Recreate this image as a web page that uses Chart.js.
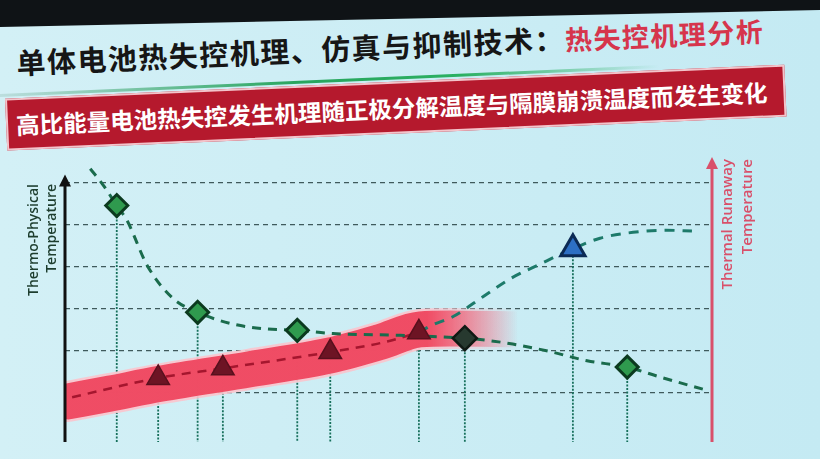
<!DOCTYPE html>
<html lang="zh">
<head>
<meta charset="utf-8">
<title>热失控机理分析</title>
<script src="https://cdn.jsdelivr.net/npm/chart.js@4.4.1/dist/chart.umd.min.js"></script>
<style>
  html, body { margin: 0; padding: 0; }
  body {
    width: 820px; height: 459px; overflow: hidden; position: relative;
    background: linear-gradient(to right, #d3f0f6, #c4eaf3);
    font-family: "Noto Sans CJK SC", sans-serif;
  }
  .topbar {
    position: absolute; left: 0; top: 0; width: 820px; height: 28px; background: #0f1316;
    clip-path: polygon(0 0, 100% 0, 100% 10px, 0 27px);
  }
  .header {
    position: absolute; left: 0; top: 0; width: 820px; height: 160px;
    transform: rotate(-2.5deg); transform-origin: 410px 90px;
  }
  .title {
    position: absolute; left: 18px; top: 24px; height: 40px; line-height: 40px;
    font-size: 29px; font-weight: 700; color: #161616; white-space: nowrap; letter-spacing: 1.5px;
  }
  .title span { color: #d6354c; font-size: 27px; }
  .rule {
    position: absolute; left: 0; top: 76px; width: 660px; height: 3px;
    background: linear-gradient(to right, rgba(60,120,90,0.15), #28a55e 45%, #2bb062 70%, rgba(40,170,100,0));
  }
  .banner {
    position: absolute; left: 5px; top: 81px; width: 780px; height: 52px; box-sizing: border-box;
    background: #b5192d; border: 2px solid #f3c4cb; color: #fff;
    font-size: 23.5px; font-weight: 700; line-height: 48px; padding-left: 8px; white-space: nowrap;
  }
  .plot { position: absolute; left: 0; top: 140px; width: 820px; height: 319px; }
</style>
</head>
<body>
<div class="topbar"></div>
<div class="header">
  <div class="title">单体电池热失控机理、仿真与抑制技术：<span>热失控机理分析</span></div>
  <div class="rule"></div>
  <div class="banner">高比能量电池热失控发生机理随正极分解温度与隔膜崩溃温度而发生变化</div>
</div>
<div class="plot"><canvas id="chart"></canvas></div>

<script>
// grid rows (temperature levels)
const gridValues = [1, 2, 3, 4, 5, 6];

// thermo-physical temperature curve (falling, green dashed)
const fallingX = [3.9, 5.9, 8.0, 9.6, 12.7, 16.7, 20.5, 25.9, 31.2, 35.9, 41.4, 51.8, 61.8, 65.2, 69.2, 75.0, 80.7, 86.9, 92.0, 98.9];
const fallingY = [6.34, 5.95, 5.46, 5.10, 4.03, 3.24, 2.91, 2.63, 2.51, 2.48, 2.40, 2.36, 2.29, 2.24, 2.15, 1.97, 1.75, 1.60, 1.36, 1.06];

// thermal runaway temperature after crossover (rising)
const risingX = [54.7, 56.7, 60.0, 64.6, 68.8, 73.4, 78.5, 82.7, 87.8, 93.0, 96.9];
const risingY = [2.43, 2.60, 2.81, 3.28, 3.71, 4.06, 4.43, 4.68, 4.82, 4.87, 4.85];

// thermal runaway temperature (red dashed)
const redX = [1.1, 14.4, 24.4, 41.0, 49.8, 54.7];
const redY = [0.88, 1.34, 1.57, 1.96, 2.21, 2.43];

// red band around it
const bandX = [0.5, 7.0, 14.7, 28.6, 41.0, 48.7, 54.9, 59.5, 70.0];
const bandY = [0.78, 0.97, 1.20, 1.55, 1.88, 2.20, 2.50, 2.52, 2.50];
const bandFade = [56, 70];

// markers
const triX = [14.4, 24.4, 41.0, 54.7];
const triY = [1.34, 1.57, 1.96, 2.43];
const diamondX = [8.0, 20.5, 35.9, 86.9];
const diamondY = [5.46, 2.91, 2.48, 1.60];
const darkX = [61.8];
const darkY = [2.29];
const blueX = [78.5];
const blueY = [4.43];

const pts = (xs, ys) => xs.map((x, i) => ({ x: x, y: ys[i] }));

function bandColor(rgb, alpha) {
  return function(ctx) {
    const chart = ctx.chart;
    if (!chart.chartArea) return 'rgba(' + rgb + ',' + alpha + ')';
    const x = chart.scales.x;
    const g = chart.ctx.createLinearGradient(x.getPixelForValue(bandFade[0]), 0, x.getPixelForValue(bandFade[1]), 0);
    g.addColorStop(0, 'rgba(' + rgb + ',' + alpha + ')');
    g.addColorStop(1, 'rgba(' + rgb + ',0)');
    return g;
  };
}

// dotted drop lines, axes with arrows and axis titles
const decor = {
  id: 'decor',
  beforeDatasetsDraw(chart) {
    const { ctx, chartArea } = chart;
    ctx.save();
    ctx.strokeStyle = '#17705c';
    ctx.lineWidth = 1.8;
    ctx.setLineDash([2, 1.5]);
    chart.data.datasets.forEach((ds, i) => {
      if (!ds.drop) return;
      chart.getDatasetMeta(i).data.forEach(p => {
        ctx.beginPath();
        ctx.moveTo(p.x, p.y);
        ctx.lineTo(p.x, chartArea.bottom);
        ctx.stroke();
      });
    });
    ctx.restore();
  },
  afterDatasetsDraw(chart) {
    const { ctx, chartArea } = chart;
    const y = chart.scales.y;
    const arrow = (x, tip, color) => {
      ctx.strokeStyle = color;
      ctx.fillStyle = color;
      ctx.lineWidth = 3;
      ctx.beginPath();
      ctx.moveTo(x, chartArea.bottom);
      ctx.lineTo(x, tip + 8);
      ctx.stroke();
      ctx.beginPath();
      ctx.moveTo(x, tip);
      ctx.lineTo(x - 6, tip + 12);
      ctx.lineTo(x + 6, tip + 12);
      ctx.closePath();
      ctx.fill();
    };
    const vlabel = (x, top, text, color, size) => {
      ctx.save();
      ctx.translate(x, top);
      ctx.rotate(-Math.PI / 2);
      ctx.fillStyle = color;
      ctx.font = '600 ' + size + 'px "Open Sans", sans-serif';
      ctx.textAlign = 'right';
      ctx.textBaseline = 'middle';
      ctx.fillText(text, 0, 0);
      ctx.restore();
    };
    ctx.save();
    arrow(chartArea.left, y.getPixelForValue(6.2), '#111');
    arrow(chartArea.right, chartArea.top, '#d9506a');
    vlabel(chartArea.left - 31, chartArea.top + 27, 'Thermo-Physical', '#1d3d2e', 14);
    vlabel(chartArea.left - 13, chartArea.top + 27, 'Temperature', '#1d3d2e', 14);
    vlabel(chartArea.right + 16, chartArea.top + 2, 'Thermal Runaway', '#d9506a', 15);
    vlabel(chartArea.right + 36, chartArea.top + 2, 'Temperature', '#d9506a', 15);
    ctx.restore();
  }
};

new Chart(document.getElementById('chart'), {
  type: 'line',
  data: {
    datasets: [
      {
        data: pts(triX, triY), showLine: false, drop: true,
        pointStyle: 'triangle', pointRadius: 13,
        pointBackgroundColor: '#6d1424', pointBorderColor: '#58101d', pointBorderWidth: 1.5
      },
      {
        data: pts(diamondX, diamondY), showLine: false, drop: true,
        pointStyle: 'rectRot', pointRadius: 11,
        pointBackgroundColor: '#2f9a4e', pointBorderColor: '#0b3a1f', pointBorderWidth: 3
      },
      {
        data: pts(darkX, darkY), showLine: false, drop: true,
        pointStyle: 'rectRot', pointRadius: 12,
        pointBackgroundColor: '#27392f', pointBorderColor: '#101a14', pointBorderWidth: 2.5
      },
      {
        data: pts(blueX, blueY), showLine: false, drop: true,
        pointStyle: 'triangle', pointRadius: 14,
        pointBackgroundColor: '#2d6fc4', pointBorderColor: '#0b2a55', pointBorderWidth: 3
      },
      {
        data: pts(fallingX, fallingY), borderColor: '#1a6b4c', borderWidth: 3,
        borderDash: [9, 7], pointRadius: 0, cubicInterpolationMode: 'monotone'
      },
      {
        data: pts(risingX, risingY), borderColor: '#1d7a6a', borderWidth: 3,
        borderDash: [10, 8], pointRadius: 0, cubicInterpolationMode: 'monotone'
      },
      {
        data: pts(redX, redY), borderColor: '#a5162e', borderWidth: 2.5,
        borderDash: [9, 7], pointRadius: 0, cubicInterpolationMode: 'monotone'
      },
      {
        data: pts(bandX, bandY), borderColor: bandColor('239,70,95', 0.95), borderWidth: 36,
        borderCapStyle: 'round', pointRadius: 0, cubicInterpolationMode: 'monotone'
      },
      {
        data: pts(bandX, bandY), borderColor: bandColor('250,196,205', 0.9), borderWidth: 41,
        borderCapStyle: 'round', pointRadius: 0, cubicInterpolationMode: 'monotone'
      }
    ]
  },
  options: {
    responsive: true,
    maintainAspectRatio: false,
    animation: false,
    events: [],
    layout: { padding: { left: 65, right: 108, top: 10, bottom: 0 } },
    plugins: { legend: { display: false }, tooltip: { enabled: false } },
    scales: {
      x: { type: 'linear', min: 0, max: 100, display: false },
      y: {
        type: 'linear', min: -0.19, max: 6.62,
        afterBuildTicks: scale => { scale.ticks = gridValues.map(v => ({ value: v })); },
        ticks: { display: false },
        border: { display: false, dash: [5, 4] },
        grid: { color: '#3f5a5c', lineWidth: 1.3, drawTicks: false }
      }
    }
  },
  plugins: [decor]
});
</script>
</body>
</html>
